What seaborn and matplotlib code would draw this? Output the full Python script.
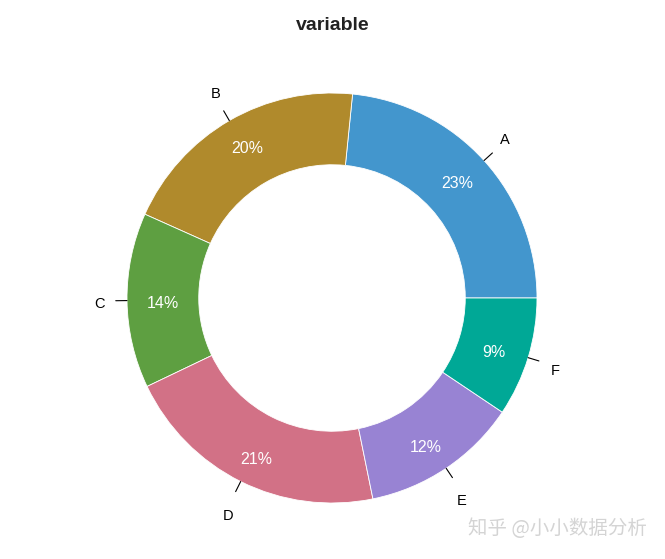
import numpy as np
import matplotlib
matplotlib.use("Agg")
import matplotlib.pyplot as plt
import seaborn as sns

categories = ["A", "B", "C", "D", "E", "F"]
values = [23.4, 19.9, 13.8, 21.1, 12.4, 9.4]
colors = ["#4396CD", "#B08A2C", "#5E9F41", "#D27186", "#9883D3", "#00A896"]
title = "variable"
watermark = "知乎 @小小数据分析"

sns.set_theme(style="white")
plt.rcParams['font.family'] = ['Liberation Sans', 'Noto Sans CJK SC', 'DejaVu Sans']

W, H = 665, 559
cx, cy, R = 332, 298, 205
fig = plt.figure(figsize=(W / 100, H / 100), dpi=100)
ax = fig.add_axes([0, 0, 1, 1])

total = sum(values)
wedges, _ = ax.pie(values, colors=colors, startangle=0, counterclock=True,
                   radius=1.0,
                   wedgeprops=dict(width=0.35, edgecolor='white', linewidth=0.6))

dy = -3.3 / R
start = 0.0
for cat, v in zip(categories, values):
    frac = v / total
    mid = np.deg2rad((start + frac / 2) * 360)
    start += frac
    c, s = np.cos(mid), np.sin(mid)
    ax.plot([1.0 * c, 1.055 * c], [1.0 * s, 1.055 * s], color='black', lw=0.8)
    ax.text(1.136 * c, 1.17 * s + dy, cat, ha='center', va='center', fontsize=10.5,
            color='black')
    ax.text(0.825 * c, 0.86 * s + dy, f"{round(frac * 100):.0f}%", ha='center',
            va='center', fontsize=11.5, color='white')

ax.set_xlim(-cx / R, (W - cx) / R)
ax.set_ylim(-(H - cy) / R, cy / R)
ax.set_aspect('equal')
ax.axis('off')

fig.text(0.5, 1 - 30 / H, title, ha='center', va='baseline', fontsize=14,
         fontweight='bold', color='#222222')
fig.text(557 / W, 1 - 529 / H, watermark, ha='center', va='center', fontsize=14,
         color='#d4d4d4', family=['Noto Sans CJK SC', 'DejaVu Sans'])

fig.savefig("out.png", dpi=100)
